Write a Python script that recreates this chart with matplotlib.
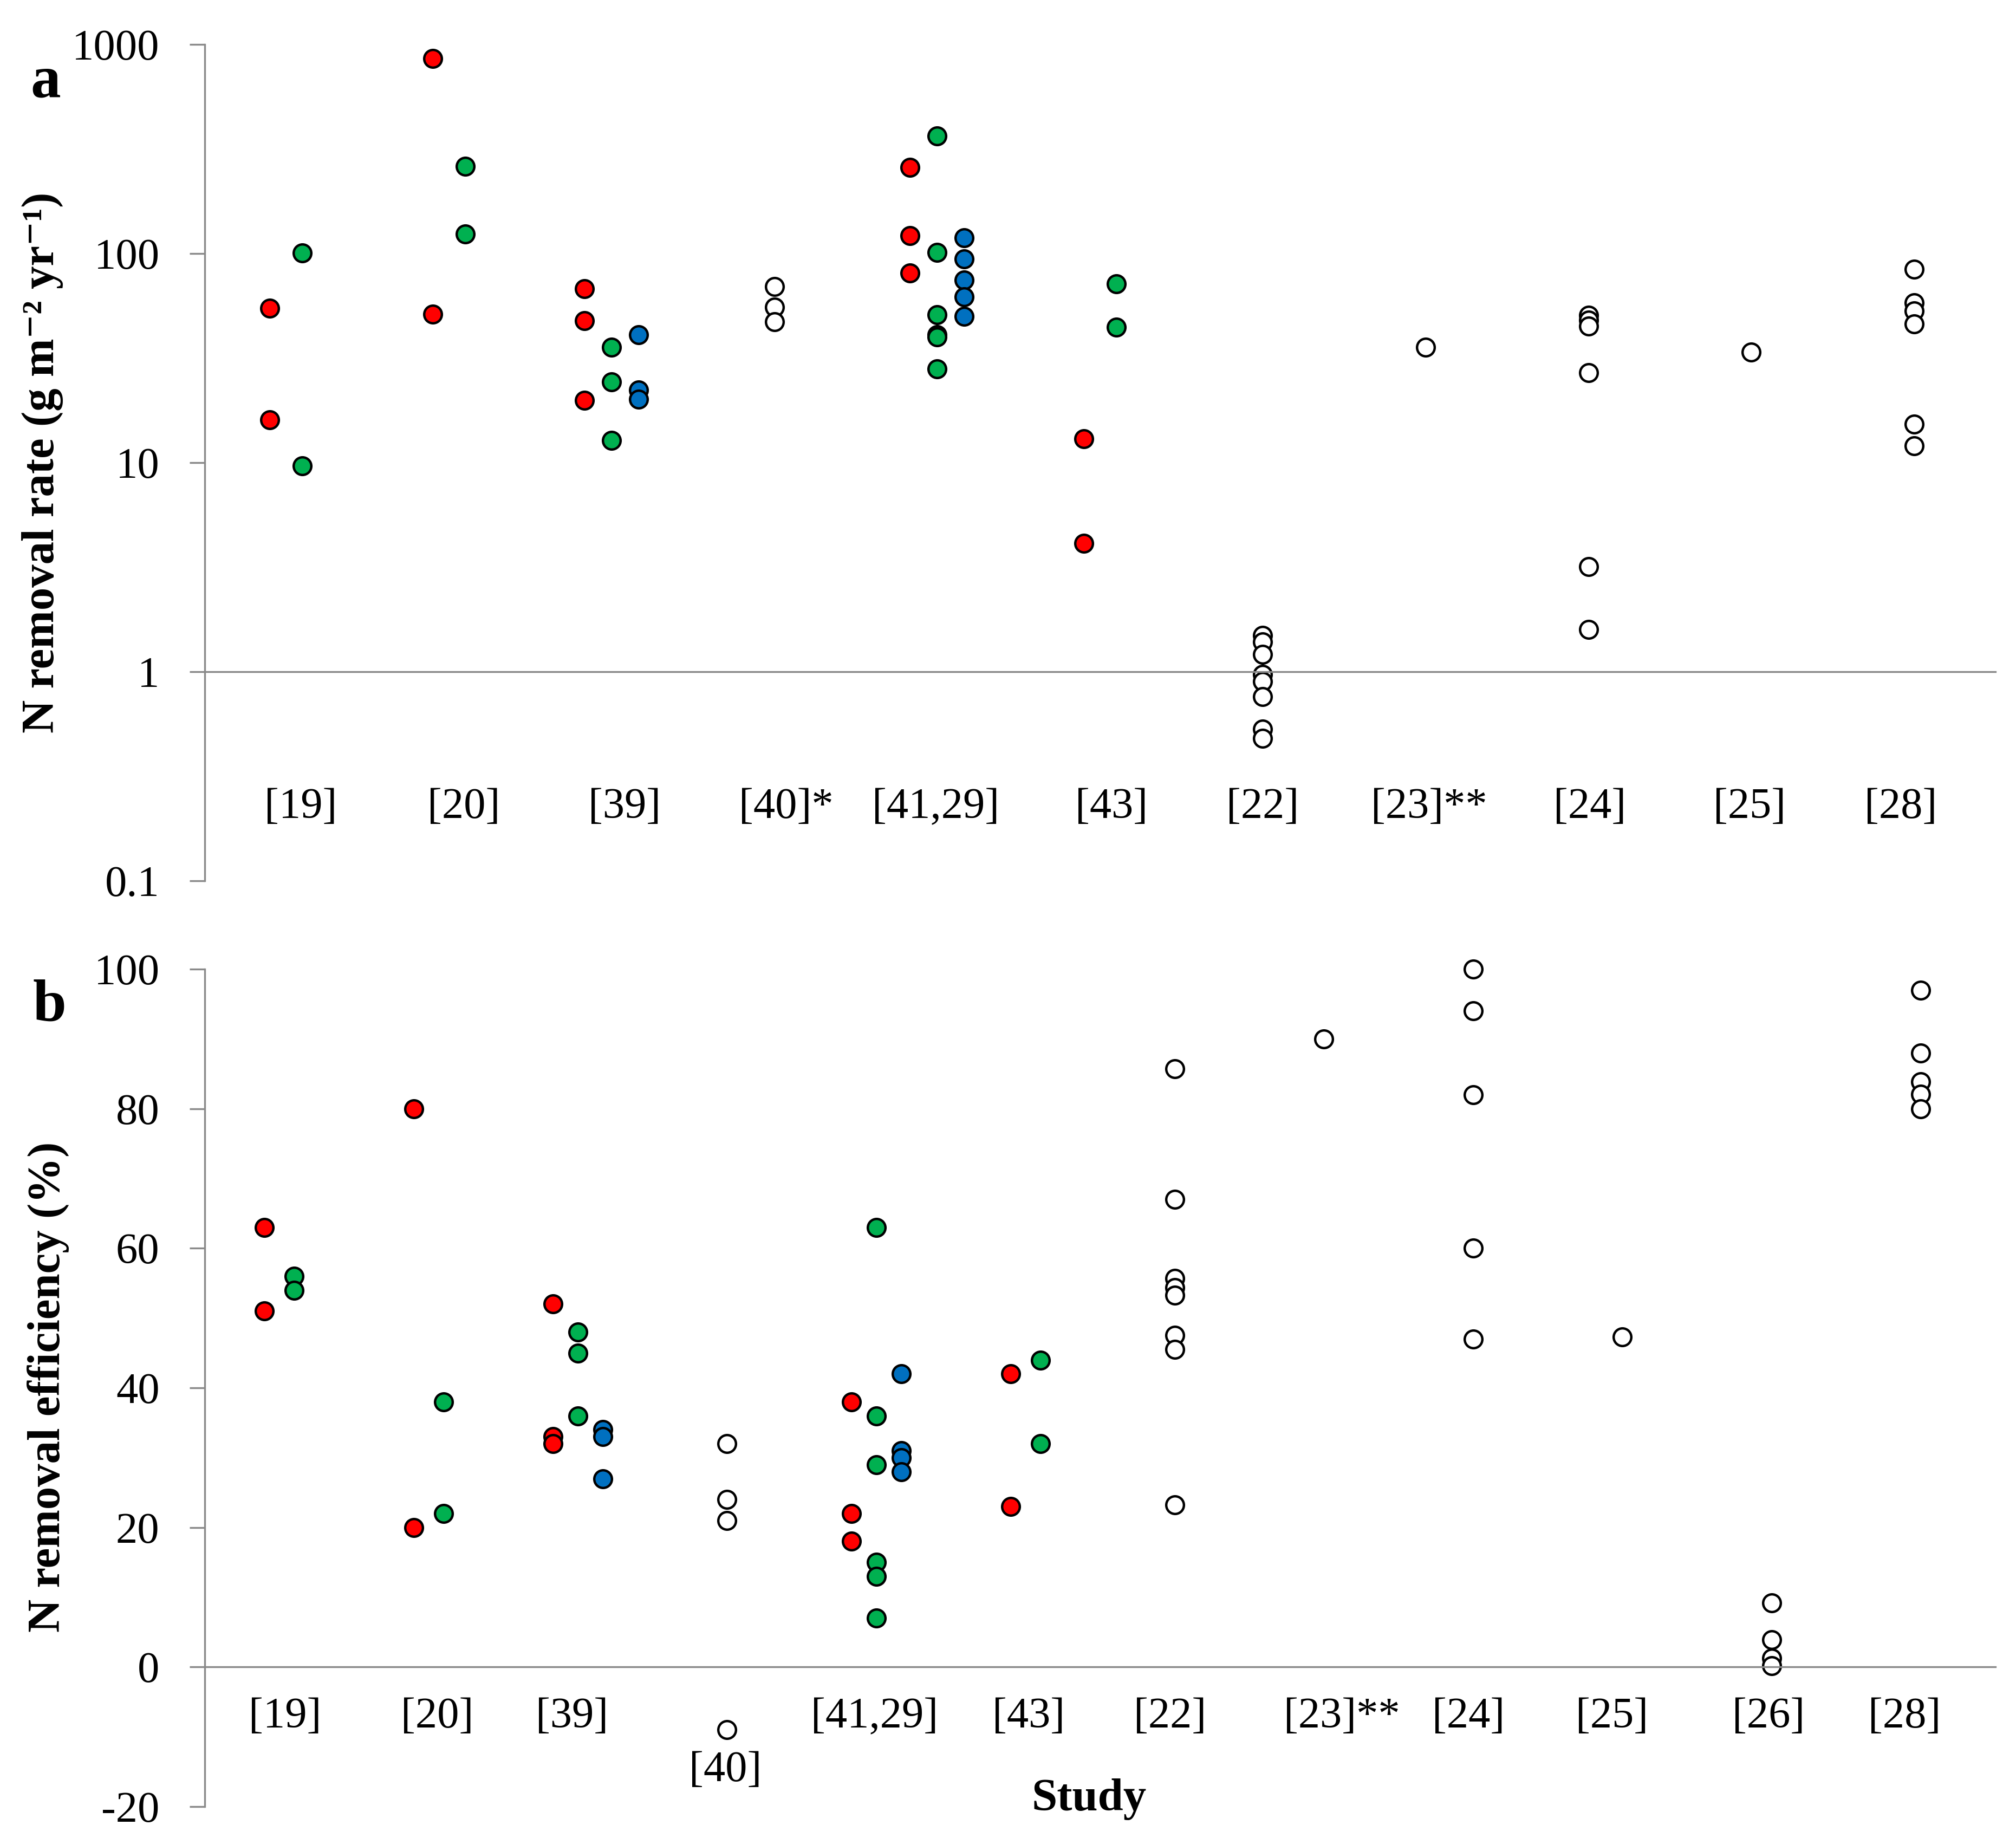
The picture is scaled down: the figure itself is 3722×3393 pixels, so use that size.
import matplotlib
matplotlib.use('Agg')
import matplotlib.pyplot as plt
from matplotlib.ticker import NullLocator, FixedLocator, FixedFormatter
import numpy as np

plt.rcParams['font.family'] = ['Liberation Serif', 'DejaVu Serif']
plt.rcParams['axes.unicode_minus'] = False

"""Data"""
# panel a: N removal rate (g m-2 yr-1), log axis
studies_a = ['[19]', '[20]', '[39]', '[40]*', '[41,29]', '[43]', '[22]', '[23]**', '[24]', '[25]', '[28]']

rate_red_study = [0, 0, 1, 1, 2, 2, 2, 4, 4, 4, 5, 5]
rate_red = [54.7, 16.0, 857, 51.3, 67.9, 47.7, 19.9, 258, 122, 80.7, 13.0, 4.11]

rate_green_study = [0, 0, 1, 1, 2, 2, 2, 4, 4, 4, 4, 4, 4, 5, 5]
rate_green = [100.6, 9.65, 261, 124, 35.6, 24.3, 12.8, 365, 101, 51, 40.9, 39.9, 28, 71.6, 44.4]

rate_blue_study = [2, 2, 2, 4, 4, 4, 4, 4]
rate_blue = [40.9, 22.2, 20.1, 119, 94, 74.6, 62, 50]

rate_open_study = [3, 3, 3, 6, 6, 6, 6, 6, 6, 6, 6, 7, 8, 8, 8, 8, 8, 8, 9, 10, 10, 10, 10, 10, 10]
rate_open = [69.5, 55.4, 47.2, 1.49, 1.39, 1.21, 0.97, 0.90, 0.76, 0.53, 0.48, 35.6,
             50.7, 48, 45, 26.9, 3.18, 1.59, 33.8, 84, 58, 53, 46, 15.3, 12]

# panel b: N removal efficiency (%)
studies_b = ['[19]', '[20]', '[39]', '[40]', '[41,29]', '[43]', '[22]', '[23]**', '[24]', '[25]', '[26]', '[28]']

eff_red_study = [0, 0, 1, 1, 2, 2, 2, 4, 4, 4, 5, 5]
eff_red = [63, 51, 80, 20, 52, 33, 32, 38, 22, 18, 42, 23]

eff_green_study = [0, 0, 1, 1, 2, 2, 2, 4, 4, 4, 4, 4, 4, 5, 5]
eff_green = [56, 54, 38, 22, 48, 45, 36, 63, 36, 29, 15, 13, 7, 44, 32]

eff_blue_study = [2, 2, 2, 4, 4, 4, 4]
eff_blue = [34, 33, 27, 42, 31, 30, 28]

eff_open_study = [3, 3, 3, 3, 6, 6, 6, 6, 6, 6, 6, 6, 7, 8, 8, 8, 8, 8, 9, 10, 10, 10, 10, 11, 11, 11, 11, 11]
eff_open = [32, 24, 21, -9, 85.7, 67, 55.7, 54.4, 53.3, 47.5, 45.5, 23.2, 90,
            100, 94, 82, 60, 47, 47.3, 9.2, 3.9, 1.3, 0.15, 97, 88, 83.9, 82.1, 80]

"""Layout"""
label_x_a = [0.59, 1.59, 2.58, 3.57, 4.49, 5.57, 6.50, 7.52, 8.51, 9.49, 10.42]
label_x_b = [0.54, 1.56, 2.46, 3.49, 4.49, 5.52, 6.47, 7.62, 8.47, 9.43, 10.48, 11.39]

RED, GREEN, BLUE = '#FF0000', '#00B050', '#0070C0'
GRAY = '#898989'
MS, MEW = 23.5, 3.2
TICK_FS = 58
LABEL_FS = 61


def group_x(study, color, red_s, green_s, blue_s):
    # two groups: red left, green right; three groups: red, green, blue
    study = np.asarray(study)
    out = []
    for s in study:
        if s in blue_s:
            off = {'red': 1 / 3, 'green': 0.5, 'blue': 2 / 3}[color]
        else:
            off = {'red': 0.4, 'green': 0.6, 'blue': 0.5}[color]
        out.append(s + off)
    return np.array(out)


def draw_panel(ax, reds, greens, blues, opens):
    red_s, red_v = reds
    green_s, green_v = greens
    blue_s, blue_v = blues
    open_s, open_v = opens
    kw = dict(linestyle='none', marker='o', ms=MS, mew=MEW, mec='black', clip_on=False)
    ax.plot(np.asarray(open_s) + 0.5, open_v, mfc='white', **kw)
    ax.plot(group_x(red_s, 'red', red_s, green_s, blue_s), red_v, mfc=RED, **kw)
    ax.plot(group_x(green_s, 'green', red_s, green_s, blue_s), green_v, mfc=GREEN, **kw)
    ax.plot(group_x(blue_s, 'blue', red_s, green_s, blue_s), blue_v, mfc=BLUE, **kw)

    for side in ['top', 'right']:
        ax.spines[side].set_visible(False)
    for side in ['left', 'bottom']:
        ax.spines[side].set_color(GRAY)
        ax.spines[side].set_linewidth(2.4)
    ax.xaxis.set_major_locator(NullLocator())
    ax.xaxis.set_minor_locator(NullLocator())
    ax.tick_params(axis='y', direction='out', length=20, width=2.4, color=GRAY,
                   labelsize=TICK_FS, pad=40)
    ax.yaxis.set_minor_locator(NullLocator())
    ax.set_facecolor('none')


fig = plt.figure(figsize=(37.23, 33.93), dpi=100)

# panel a
ax_a = fig.add_axes([0.1015, 0.5208, 0.888, 0.4550])
draw_panel(ax_a, (rate_red_study, rate_red), (rate_green_study, rate_green),
           (rate_blue_study, rate_blue), (rate_open_study, rate_open))
ax_a.set_yscale('log')
ax_a.set_ylim(0.1, 1000)
ax_a.set_xlim(0, 11)
ax_a.yaxis.set_major_locator(FixedLocator([0.1, 1, 10, 100, 1000]))
ax_a.yaxis.set_major_formatter(FixedFormatter(['0.1', '1', '10', '100', '1000']))
ax_a.yaxis.set_minor_locator(NullLocator())
ax_a.spines['bottom'].set_position(('data', 1))
for lx, lab in zip(label_x_a, studies_a):
    ax_a.text(lx, 0.0874, lab, transform=ax_a.get_xaxis_transform(),
              ha='center', va='center', fontsize=TICK_FS)

# panel b
ax_b = fig.add_axes([0.1015, 0.0171, 0.888, 0.4556])
draw_panel(ax_b, (eff_red_study, eff_red), (eff_green_study, eff_green),
           (eff_blue_study, eff_blue), (eff_open_study, eff_open))
ax_b.set_ylim(-20, 100)
ax_b.set_xlim(0, 12)
ax_b.set_yticks([-20, 0, 20, 40, 60, 80, 100])
ax_b.spines['bottom'].set_position(('data', 0))
for lx, lab in zip(label_x_b, studies_b):
    ly = 0.043 if lab == '[40]' else 0.107
    ax_b.text(lx, ly, lab, transform=ax_b.get_xaxis_transform(),
              ha='center', va='center', fontsize=TICK_FS)

# labels
fig.text(0.021, 0.7483, 'N removal rate (g m\u207b\u00b2 yr\u207b\u00b9)', rotation=90,
         ha='center', va='center', fontsize=LABEL_FS, fontweight='bold')
fig.text(0.024, 0.2454, 'N removal efficiency (%)', rotation=90,
         ha='center', va='center', fontsize=LABEL_FS, fontweight='bold')
fig.text(0.540, 0.0212, 'Study', ha='center', va='center', fontsize=LABEL_FS, fontweight='bold')
fig.text(0.0226, 0.9475, 'a', ha='center', va='baseline', fontsize=80, fontweight='bold')
fig.text(0.0245, 0.4445, 'b', ha='center', va='baseline', fontsize=80, fontweight='bold')

fig.savefig('out.png', dpi=100)
